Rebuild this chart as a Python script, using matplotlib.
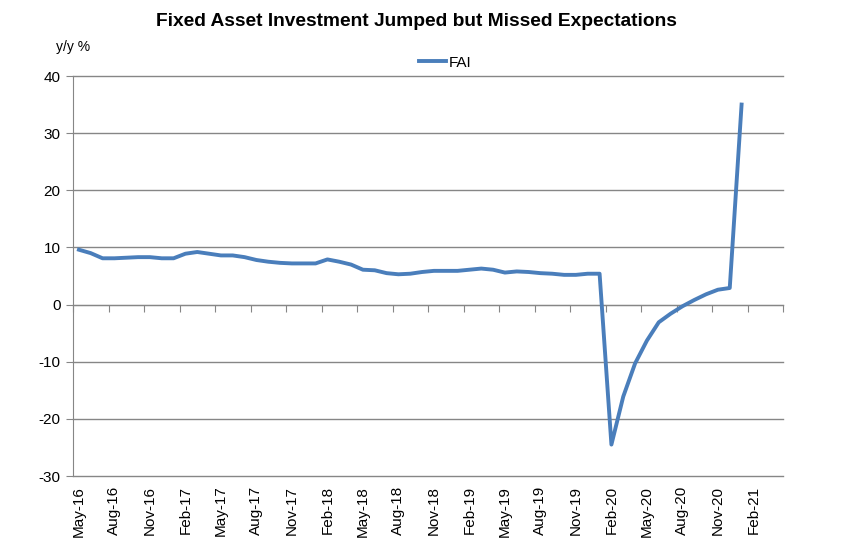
import matplotlib
matplotlib.use("Agg")
import matplotlib.pyplot as plt
import numpy as np

plt.rcParams['font.family'] = ['Liberation Sans', 'DejaVu Sans']

# monthly slots starting May-16 (January slots included)
fai = [9.6, 9.0, 8.1, 8.1, 8.2, 8.3, 8.3, 8.1,            # May-16 .. Dec-16
       8.1, 8.9, 9.2, 8.9, 8.6, 8.6, 8.3, 7.8, 7.5, 7.3, 7.2, 7.2,   # Jan-17 .. Dec-17
       7.2, 7.9, 7.5, 7.0, 6.1, 6.0, 5.5, 5.3, 5.4, 5.7, 5.9, 5.9,   # Jan-18 .. Dec-18
       5.9, 6.1, 6.3, 6.1, 5.6, 5.8, 5.7, 5.5, 5.4, 5.2, 5.2, 5.4,   # Jan-19 .. Dec-19
       5.4, -24.5, -16.1, -10.3, -6.3, -3.1, -1.6, -0.3, 0.8, 1.8, 2.6, 2.9,  # Jan-20 .. Dec-20
       35.0]                                                   # Jan-21
tick_labels = ['May-16', 'Aug-16', 'Nov-16', 'Feb-17', 'May-17', 'Aug-17', 'Nov-17',
               'Feb-18', 'May-18', 'Aug-18', 'Nov-18', 'Feb-19', 'May-19', 'Aug-19',
               'Nov-19', 'Feb-20', 'May-20', 'Aug-20', 'Nov-20', 'Feb-21']
n_slots = 60
y_ticks = [-30, -20, -10, 0, 10, 20, 30, 40]

fig = plt.figure(figsize=(8.52, 5.60), dpi=100)
ax = fig.add_axes([73/852, 1-476/560, (783-73)/852, (476-76)/560])

x = np.arange(len(fai))
ax.plot(x, fai, color='#4a7ebb', linewidth=2.8, solid_joinstyle='round', label='FAI', zorder=3)

ax.set_xlim(-0.5, n_slots - 0.5)
ax.set_ylim(-30, 40)
ax.set_yticks(y_ticks)
ax.set_yticklabels([str(v) for v in y_ticks], fontsize=11)
ax.yaxis.grid(True, color='#868686', linewidth=1.0)
for gl in ax.yaxis.get_gridlines():
    gl.set_clip_on(False)
ax.set_axisbelow(True)

grey = '#868686'
for s in ['top', 'right']:
    ax.spines[s].set_visible(False)
ax.spines['left'].set_color(grey)
ax.spines['bottom'].set_color(grey)
ax.spines['bottom'].set_position(('data', 0))
ax.tick_params(axis='y', direction='out', length=5, color=grey, pad=4)

# category axis tick marks at slot boundaries every 3 months
ax.set_xticks(np.arange(-0.5, n_slots, 3))
ax.tick_params(axis='x', direction='out', length=5, color=grey, labelbottom=False)

# labels at bottom of plot area
sec = ax.secondary_xaxis('bottom')
sec.set_xticks(np.arange(0, n_slots, 3)[:len(tick_labels)])
sec.set_xticklabels(tick_labels, rotation=90, fontsize=11)
sec.tick_params(axis='x', length=0, pad=7)
sec.spines['bottom'].set_visible(False)

fig.text(416/852, 1-22/560, 'Fixed Asset Investment Jumped but Missed Expectations',
         ha='center', va='center', fontsize=13.8, fontweight='bold')
fig.text(56/852, 1-47/560, 'y/y %', ha='left', va='center', fontsize=10)

leg = ax.legend(loc='upper center', bbox_to_anchor=((445 - 73) / 710, 1.085), frameon=False,
                fontsize=11, handlelength=1.8, handletextpad=0.15)

fig.savefig('out.png', dpi=100, facecolor='white')
